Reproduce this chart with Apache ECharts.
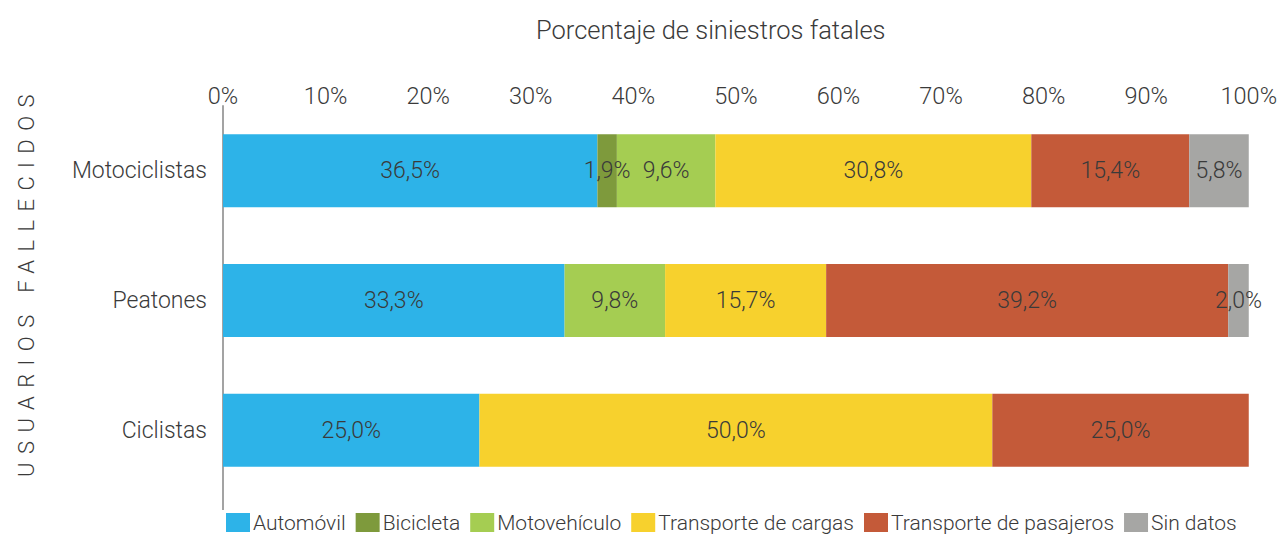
<!DOCTYPE html>
<html>
<head>
<meta charset="utf-8">
<script src="https://cdn.jsdelivr.net/npm/echarts@6/dist/echarts.min.js"></script>
<style>html,body{margin:0;padding:0;background:#fff}#c{width:1280px;height:536px}</style>
</head>
<body>
<div id="c"></div>
<script>
const categories = ['Motociclistas', 'Peatones', 'Ciclistas'];
const seriesNames = ['Automóvil', 'Bicicleta', 'Motovehículo', 'Transporte de cargas', 'Transporte de pasajeros', 'Sin datos'];
const automovil = [36.5, 33.3, 25.0];
const bicicleta = [1.9, 0, 0];
const motovehiculo = [9.6, 9.8, 0];
const cargas = [30.8, 15.7, 50.0];
const pasajeros = [15.4, 39.2, 25.0];
const sinDatos = [5.8, 2.0, 0];
const xTicks = [0, 10, 20, 30, 40, 50, 60, 70, 80, 90, 100];
const colors = ['#2DB3E8', '#7E9A3C', '#A5CD52', '#F7D12D', '#C45A39', '#A6A6A4'];

const seriesData = [automovil, bicicleta, motovehiculo, cargas, pasajeros, sinDatos];
const FONT = 'Roboto';
const TXT = '#3a3a3a';

const chart = echarts.init(document.getElementById('c'), null, {renderer: 'svg'});
chart.setOption({
  animation: false,
  textStyle: {fontFamily: FONT, fontWeight: 300},
  title: {
    text: 'Porcentaje de siniestros fatales',
    left: 531, top: 12,
    textStyle: {fontFamily: FONT, fontWeight: 300, fontSize: 25.5, color: TXT}
  },
  grid: {left: 223, right: 30, top: 106, height: 389},
  legend: {
    data: seriesNames,
    left: 221, top: 507,
    itemWidth: 24, itemHeight: 19, itemGap: 10,
    icon: 'rect',
    textStyle: {fontFamily: FONT, fontWeight: 300, fontSize: 21, color: TXT, padding: [0, 0, 0, -2]}
  },
  xAxis: {
    type: 'value', position: 'top', min: 0, max: 100, interval: 10,
    axisLine: {show: false}, axisTick: {show: false}, splitLine: {show: false},
    axisLabel: {
      margin: -2, fontSize: 23.5, color: TXT, fontFamily: FONT, fontWeight: 300,
      formatter: v => xTicks.includes(v) ? v + '%' : ''
    }
  },
  yAxis: {
    type: 'category', inverse: true, data: categories,
    axisLine: {show: true, lineStyle: {color: '#A3A3A3', width: 2}},
    axisTick: {show: false},
    axisLabel: {margin: 16, fontSize: 23, color: TXT, fontFamily: FONT, fontWeight: 300},
    name: 'USUARIOS FALLECIDOS',
    nameLocation: 'middle', nameRotate: 90, nameGap: 186,
    nameTextStyle: {fontSize: 22, color: TXT, fontFamily: FONT, fontWeight: 300, padding: [0, 0, 0, 38]}
  },
  graphic: [{
    type: 'line', z: 10,
    shape: {x1: 223, y1: 494, x2: 223, y2: 510},
    style: {stroke: '#A3A3A3', lineWidth: 2}
  }],
  series: seriesNames.map((name, i) => ({
    name: name, type: 'bar', stack: 'total',
    barWidth: 73,
    itemStyle: {color: colors[i]},
    label: {
      show: true, position: 'inside', fontSize: 23, color: TXT, fontFamily: FONT, fontWeight: 300,
      formatter: p => p.value > 0 ? p.value.toFixed(1).replace('.', ',') + '%' : ''
    },
    data: seriesData[i].map(v => v > 0 ? v : null)
  }))
});

function spaceTitle() {
  document.querySelectorAll('#c svg text').forEach(t => {
    if (t.textContent === 'USUARIOS FALLECIDOS') {
      t.style.letterSpacing = '8.4px';
    }
  });
}
spaceTitle();
chart.on('finished', spaceTitle);
</script>
</body>
</html>
